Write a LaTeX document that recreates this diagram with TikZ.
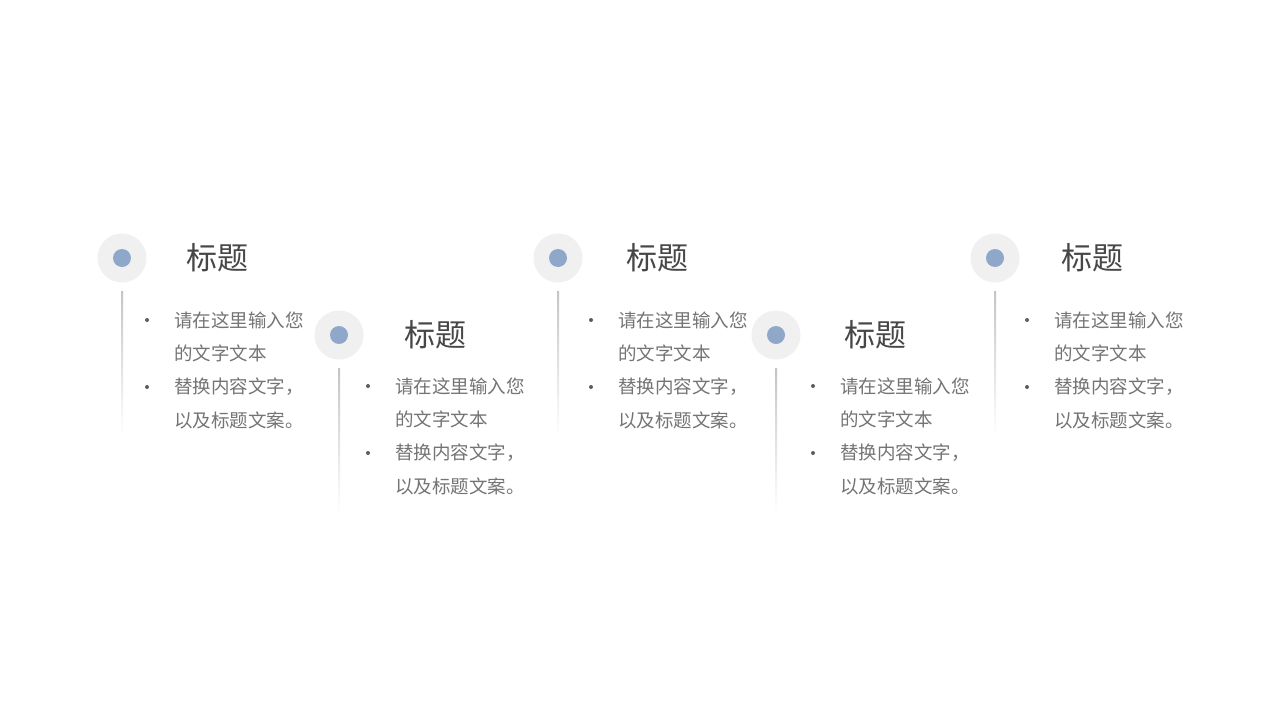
\documentclass[tikz,border=0pt]{standalone}
\usepackage{fontspec}
\newfontfamily\cjk{Noto Sans CJK SC}
\definecolor{ringgray}{HTML}{F0F0F0}
\definecolor{dotblue}{HTML}{8FA8CA}
\definecolor{titlegray}{HTML}{474747}
\definecolor{bodygray}{HTML}{747474}
\definecolor{linegray}{HTML}{C4C4C4}
\tikzset{
  x=1pt,y=-1pt,
  ring/.style={circle,fill=ringgray,minimum size=49pt,inner sep=0pt},
  dot/.style={circle,fill=dotblue,minimum size=18pt,inner sep=0pt},
  ttl/.style={anchor=west,inner sep=0pt,font=\cjk\fontsize{31}{31}\selectfont,text=titlegray},
  body/.style={anchor=west,inner sep=0pt,font=\cjk\fontsize{18.5}{18.5}\selectfont,text=bodygray},
  bul/.style={circle,fill=bodygray!80!black,minimum size=4pt,inner sep=0pt},
}
\newcommand{\stage}[7]{% name, cx, cy, bulletx, textx, titlex, first text y
  \node[ring] (#1r) at (#2,#3) {};
  \node[dot] (#1d) at (#2,#3) {};
  \node[ttl] (#1t) at (#6,#3) {标题};
  \shade[top color=linegray,bottom color=white] (#2-1,#3+33) rectangle (#2+1,#3+178);
  \node[bul] (#1b1) at (#4,#7) {};
  \node[body] (#1l1) at (#5,#7) {请在这里输入您};
  \node[body] (#1l2) at (#5,#7+33.5) {的文字文本};
  \node[bul] (#1b2) at (#4,#7+67) {};
  \node[body] (#1l3) at (#5,#7+67) {替换内容文字，};
  \node[body] (#1l4) at (#5,#7+100.5) {以及标题文案。};
}
\begin{document}
\begin{tikzpicture}
\useasboundingbox[fill=white] (0,0) rectangle (1280,720);
\stage{a}{122}{258}{147}{174}{186}{320}
\stage{b}{339}{335}{368}{395}{404}{386}
\stage{c}{558}{258}{591}{618}{626}{320}
\stage{d}{776}{335}{813}{840}{844}{386}
\stage{e}{995}{258}{1027}{1054}{1061}{320}
\end{tikzpicture}
\end{document}
